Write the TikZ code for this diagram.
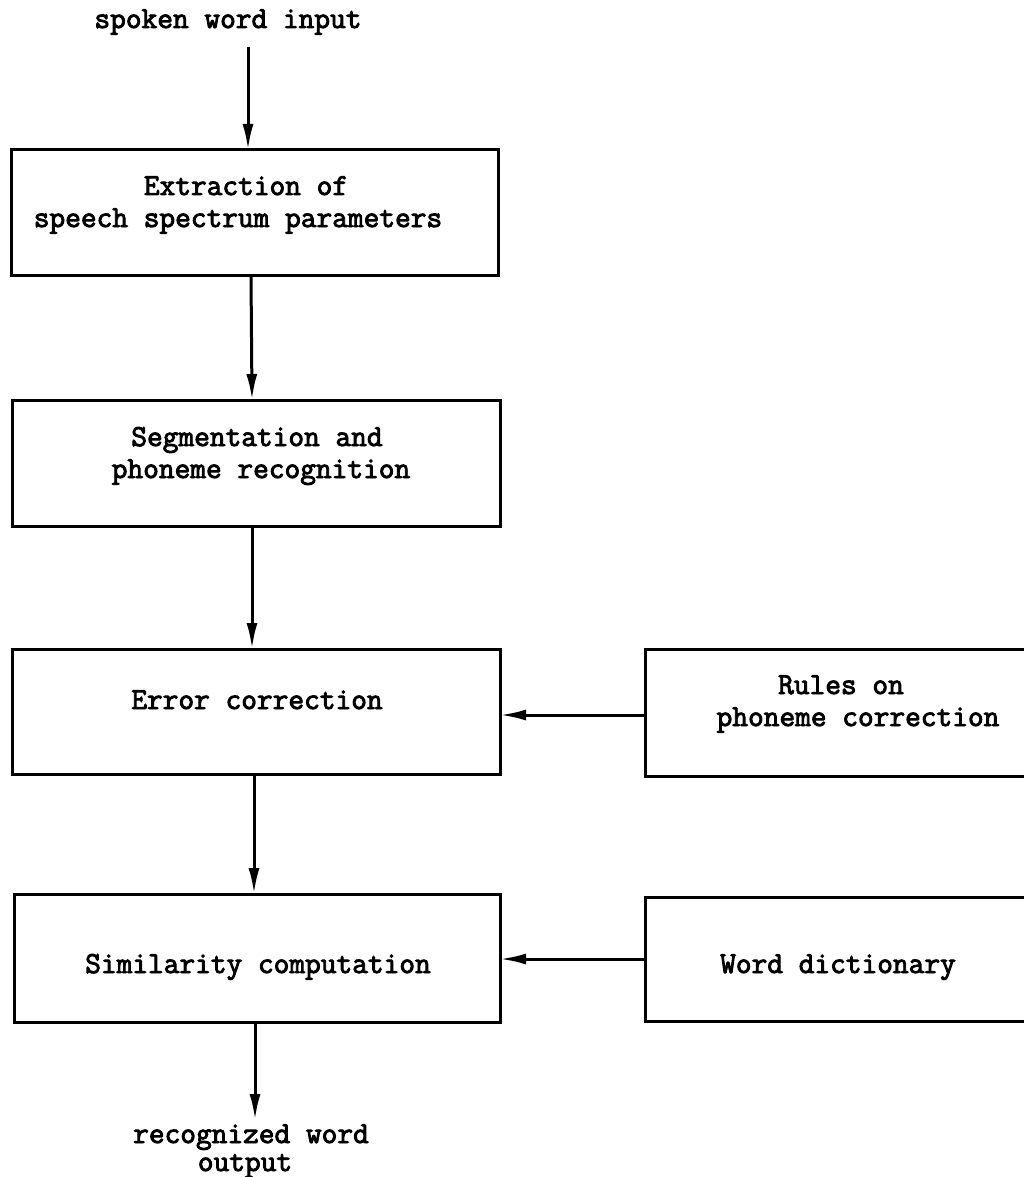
\documentclass[tikz,border=0pt]{standalone}
\usetikzlibrary{arrows.meta}
% typewriter text set a little heavier: fill and stroke the glyphs
\newcommand{\heavytext}{\special{pdf:literal direct 2 Tr 0.9 w}}
\begin{document}
\begin{tikzpicture}[x=1pt,y=-1pt,
  box/.style={draw, line width=3pt, rectangle, inner sep=0pt, outer sep=0pt},
  lbl/.style={anchor=base, inner sep=0pt, font=\fontsize{30.5}{32}\selectfont\ttfamily\heavytext},
  arr/.style={line width=3pt, -{Latex[length=26pt,width=11pt]}}]
\useasboundingbox (0,0) rectangle (1024,1177);

% processing chain
\node[box, minimum width=487pt, minimum height=125pt] (b1) at (254.5,212.5) {};
\node[box, minimum width=488pt, minimum height=126pt] (b2) at (256,463) {};
\node[box, minimum width=488pt, minimum height=125pt] (b3) at (256,711.5) {};
\node[box, minimum width=486pt, minimum height=128pt] (b4) at (257,958) {};
% knowledge sources
\node[box, minimum width=395pt, minimum height=127pt] (r3) at (842.5,712.5) {};
\node[box, minimum width=395pt, minimum height=124pt] (r4) at (842.5,959) {};

% connectors
\coordinate (inS) at (248,47);
\coordinate (outE) at (255,1120);
\draw[arr] (inS) -- (b1.north -| inS);
\draw[arr] ([xshift=-3.5pt]b1.south) -- ([xshift=-4pt]b2.north);
\draw[arr] ([xshift=-4pt]b2.south) -- ([xshift=-4pt]b3.north);
\draw[arr] ([xshift=-2pt]b3.south) -- ([xshift=-3pt]b4.north);
\draw[arr] (b4.south -| outE) -- (outE);
\draw[arr] ([yshift=-2.5pt]r3.west) -- ([yshift=-3.5pt]b3.east);
\draw[arr] (r4.west) -- (r4.west -| b4.east);

% labels
\node[lbl] (tin) at (228,28) {spoken word input};
\node[lbl] (t1a) at (246,195) {Extraction of};
\node[lbl] (t1b) at (238,227) {speech spectrum parameters};
\node[lbl] (t2a) at (257,446) {Segmentation and};
\node[lbl] (t2b) at (261,478) {phoneme recognition};
\node[lbl] (t3) at (257,709) {Error correction};
\node[lbl] (tr3a) at (841,694) {Rules on};
\node[lbl] (tr3b) at (858,726) {phoneme correction};
\node[lbl] (t4) at (258,973) {Similarity computation};
\node[lbl] (tr4) at (838,973) {Word dictionary};
\node[lbl] (to1) at (251,1143) {recognized word};
\node[lbl] (to2) at (245,1171) {output};
\end{tikzpicture}
\end{document}
